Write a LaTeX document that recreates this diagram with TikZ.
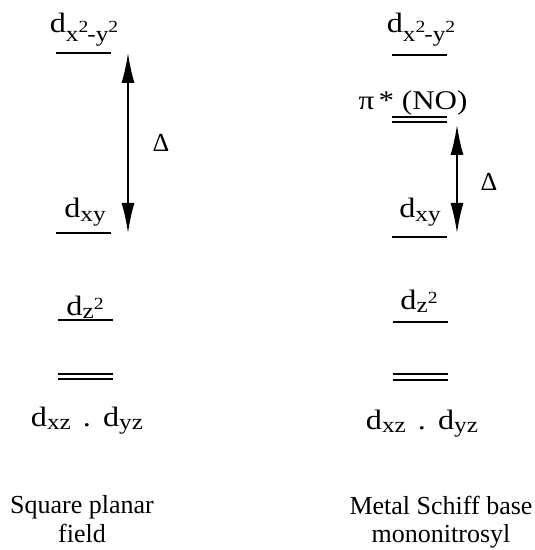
\documentclass[tikz,border=0pt]{standalone}
\usepackage{fontspec}
\setmainfont{Liberation Serif}
\newfontfamily\widefont[FakeStretch=1.15]{Liberation Serif}
\usetikzlibrary{arrows.meta}
\newcommand\lsub[2][4pt]{\raisebox{-#1}{\fontsize{22}{22}\selectfont #2}}
\newcommand\lsup[1]{\raisebox{9pt}{\fontsize{17}{17}\selectfont #1}}
\newcommand\dxy{d\lsub[9pt]{x\lsup{2}\kern-1pt-y\lsup{2}}}
\newcommand\dpair{d\lsub[3pt]{xz}\hspace{12pt}.\hspace{12pt}d\lsub[3pt]{yz}}
\begin{document}
\begin{tikzpicture}[x=1pt,y=1pt,
  lbl/.style={font=\widefont\fontsize{28}{30}\selectfont, inner sep=0pt, anchor=base},
  lvl/.style={line width=1.2pt},
  gap/.style={line width=1.5pt, {Latex[length=30pt,width=13pt]}-{Latex[length=30pt,width=13pt]}},
  capt/.style={font=\fontsize{26}{29}\selectfont, inner sep=0pt, anchor=base, align=center}]
\useasboundingbox (0,0) rectangle (535,550);
% ---------- left column
\coordinate (a1l) at (56,497); \coordinate (a1r) at (111,497);
\coordinate (a2l) at (56,317); \coordinate (a2r) at (111,317);
\coordinate (a3l) at (58,230); \coordinate (a3r) at (113,230);
\coordinate (a4l) at (58,176); \coordinate (a4r) at (113,176);
\coordinate (a5l) at (58,171); \coordinate (a5r) at (113,171);
\draw[lvl] (a1l) -- (a1r);
\draw[lvl] (a2l) -- (a2r);
\draw[lvl] (a3l) -- (a3r);
\draw[lvl] (a4l) -- (a4r);
\draw[lvl] (a5l) -- (a5r);
\node[lbl] (lx) at (84,517) {\dxy};
\node[lbl] (lxy) at (85,332) {d\lsub{xy}};
\node[lbl] (lz) at (85,234) {d\lsub[3pt]{z\lsup{2}}};
\node[lbl] (lxz) at (87,123) {\dpair};
\coordinate (ga) at (128,497); \coordinate (gb) at (128,317);
\draw[gap] (ga) -- (gb);
\node[lbl, anchor=center, font=\fontsize{26}{28}\selectfont] (dl) at (161,407) {Δ};
\node[capt] (cl) at (82,37) {Square planar};
\node[capt] (cl2) at (82,7) {field};
% ---------- right column
\coordinate (b1l) at (392,495); \coordinate (b1r) at (447,495);
\coordinate (b2l) at (392,433); \coordinate (b2r) at (447,433);
\coordinate (b3l) at (392,428); \coordinate (b3r) at (447,428);
\coordinate (b4l) at (392,313); \coordinate (b4r) at (447,313);
\coordinate (b5l) at (393,228); \coordinate (b5r) at (448,228);
\coordinate (b6l) at (393,176); \coordinate (b6r) at (448,176);
\coordinate (b7l) at (393,170); \coordinate (b7r) at (448,170);
\draw[lvl] (b1l) -- (b1r);
\draw[lvl] (b2l) -- (b2r);
\draw[lvl] (b3l) -- (b3r);
\draw[lvl] (b4l) -- (b4r);
\draw[lvl] (b5l) -- (b5r);
\draw[lvl] (b6l) -- (b6r);
\draw[lvl] (b7l) -- (b7r);
\node[lbl] (rx) at (421,517) {\dxy};
\node[lbl, font=\widefont\fontsize{27}{30}\selectfont] (rpi) at (413,440) {π\,* (NO)};
\node[lbl] (rxy) at (420,332) {d\lsub{xy}};
\node[lbl] (rz) at (419,240) {d\lsub[3pt]{z\lsup{2}}};
\node[lbl] (rxz) at (422,120) {\dpair};
\coordinate (gc) at (457,425); \coordinate (gd) at (457,317);
\draw[gap] (gc) -- (gd);
\node[lbl, anchor=center, font=\fontsize{26}{28}\selectfont] (dr) at (489,368) {Δ};
\node[capt] (cr) at (441,35) {Metal Schiff base};
\node[capt] (cr2) at (441,7) {mononitrosyl};
\end{tikzpicture}
\end{document}
